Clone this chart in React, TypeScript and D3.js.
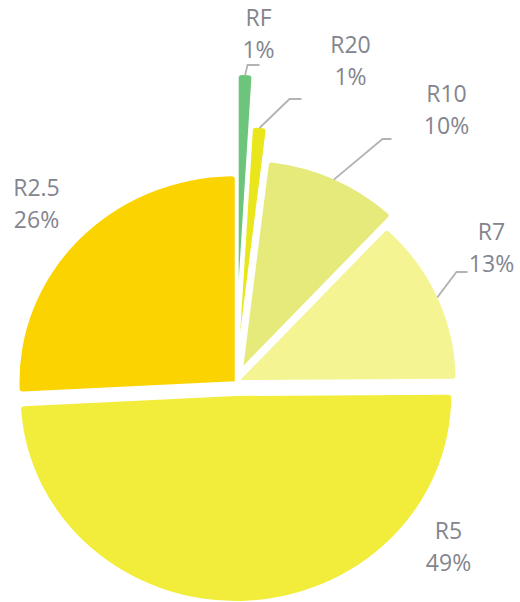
import React, { useEffect, useRef } from "react";
import * as d3 from "d3";

// share of each resistance class
const categories = ["RF", "R20", "R10", "R7", "R5", "R2.5"];
const shares = [0.95, 0.95, 10.0, 13.0, 49.3, 25.8];
const shareLabels = ["1%", "1%", "10%", "13%", "49%", "26%"];

const colors = ["#6dc57b", "#e9e61c", "#e6ea7a", "#f4f492", "#f2ec3a", "#fad300"];
// how far each slice is pulled away from the centre
const explode = [102, 50, 18, 5, 14, 1];
// label layout relative to the pie centre: elbow of the leader line, its flat length, text anchor
const labelLayout = [
  { elbow: [12, -317], len: 12, tx: 23, ty: -356 },
  { elbow: [54, -283], len: 12, tx: 115, ty: -329 },
  { elbow: [147, -243], len: 9, tx: 211, ty: -280 },
  { elbow: [221, -110], len: 11, tx: 256, ty: -142 },
  { elbow: null, len: 0, tx: 213, ty: 157 },
  { elbow: null, len: 0, tx: -199, ty: -186 },
];

export default function App() {
  const ref = useRef<SVGSVGElement>(null);

  useEffect(() => {
    const W = 520, H = 602;
    const cx = 235.5, cy = 382, r = 205, sx = 1.05;

    const svg = d3.select(ref.current).attr("width", W).attr("height", H);
    svg.selectAll("*").remove();

    const pie = d3.pie<number>().sort(null).value(d => d);
    const arcs = pie(shares);
    const arc = d3.arc<d3.PieArcDatum<number>>().innerRadius(0).outerRadius(r).cornerRadius(3);

    const g = svg.append("g").attr("transform", `translate(${cx},${cy}) scale(${sx},1)`);

    g.selectAll("path")
      .data(arcs)
      .join("path")
      .attr("d", d => arc(d))
      .attr("transform", (d, i) => {
        const mid = (d.startAngle + d.endAngle) / 2;
        return `translate(${explode[i] * Math.sin(mid)},${-explode[i] * Math.cos(mid)})`;
      })
      .style("fill", (d, i) => colors[i]);

    // leader lines
    arcs.forEach((d, i) => {
      const lay = labelLayout[i];
      if (!lay.elbow) return;
      const mid = (d.startAngle + d.endAngle) / 2;
      const rr = explode[i] + r;
      const x0 = cx + sx * rr * Math.sin(mid);
      const y0 = cy - rr * Math.cos(mid);
      const x1 = cx + lay.elbow[0], y1 = cy + lay.elbow[1];
      svg.append("path")
        .attr("d", d3.line()([[x0, y0], [x1, y1], [x1 + lay.len, y1]]))
        .style("fill", "none")
        .style("stroke", "#b3b3b3")
        .style("stroke-width", 1.8);
    });

    const labels = svg.selectAll(".lbl")
      .data(categories)
      .join("text")
      .attr("class", "lbl")
      .attr("text-anchor", "middle")
      .style("font-family", "'Open Sans', sans-serif")
      .style("font-size", "23px")
      .style("fill", "#83858e");

    labels.append("tspan")
      .attr("x", (d, i) => cx + labelLayout[i].tx)
      .attr("y", (d, i) => cy + labelLayout[i].ty)
      .text(d => d);
    labels.append("tspan")
      .attr("x", (d, i) => cx + labelLayout[i].tx)
      .attr("y", (d, i) => cy + labelLayout[i].ty + 32)
      .text((d, i) => shareLabels[i]);
  }, []);

  return <svg ref={ref} style={{ position: "absolute", left: 0, top: 0, background: "#fff" }}></svg>;
}
